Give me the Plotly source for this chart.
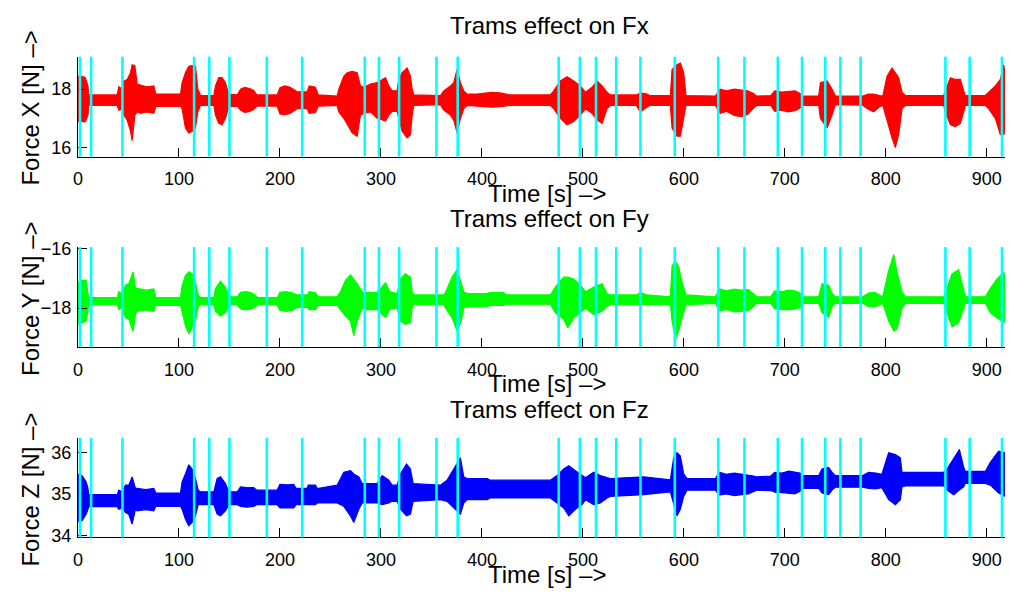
import plotly.graph_objects as go

# ---------------- data ----------------
# Envelope of each force signal: (time [s], upper extreme [N], lower extreme [N])
fx_env = [
    (0, 18.44, 16.89), (3.9, 18.44, 16.89), (7.2, 18.39, 16.89), (9.9, 18.11, 17.11), (10.5, 17.80, 17.44),
    (38.8, 17.80, 17.44), (40.4, 18.08, 17.28), (43.8, 18.00, 17.33), (45.4, 18.28, 17.11), (48.7, 18.33, 16.94),
    (52.0, 18.56, 16.56), (53.6, 18.83, 16.24), (56.3, 18.80, 17.11), (58.6, 18.17, 17.22), (61.9, 18.14, 17.17),
    (68, 18.08, 17.22), (75.1, 18.11, 17.17), (77, 17.83, 17.41), (101.5, 17.83, 17.41), (103.1, 18.22, 17.33),
    (106.4, 18.56, 16.67), (109.7, 18.78, 16.50), (113.0, 18.80, 16.56), (116.3, 18.78, 16.67), (118.6, 18.00, 17.22),
    (121.3, 17.78, 17.44), (134.5, 17.78, 17.44), (136.1, 18.11, 17.11), (139.4, 18.39, 16.83), (142.7, 18.39, 16.78),
    (146.0, 18.22, 17.00), (149.3, 17.83, 17.39), (157.6, 17.80, 17.42), (161, 18.00, 17.28), (165, 18.06, 17.20),
    (170, 18.02, 17.24), (174, 17.95, 17.30), (177, 17.80, 17.42), (197.2, 17.80, 17.42), (200, 18.05, 17.15),
    (205, 18.11, 17.13), (210, 18.06, 17.17), (214, 17.98, 17.25), (217, 17.91, 17.33), (226.9, 17.91, 17.33),
    (229, 18.11, 17.17), (235.1, 18.06, 17.20), (238, 17.80, 17.42), (256.6, 17.76, 17.44), (258.3, 18.00, 17.22),
    (263.2, 18.44, 17.00), (266.5, 18.56, 16.78), (271.5, 18.61, 16.50), (276.4, 18.56, 16.39), (279.7, 18.11, 17.11),
    (283.0, 18.06, 17.17), (289.6, 18.17, 17.22), (296.2, 18.22, 17.00), (304.5, 18.39, 16.91), (307.8, 18.11, 17.11),
    (311.1, 17.94, 17.24), (316.0, 17.94, 17.24), (317.7, 18.33, 17.00), (321.0, 18.56, 16.56), (325.9, 18.72, 16.33),
    (329.2, 18.44, 16.44), (330.9, 18.00, 17.11), (332.5, 17.80, 17.44), (358.9, 17.78, 17.47), (362.2, 17.94, 17.28),
    (368.8, 18.11, 17.11), (372.1, 18.22, 16.94), (375.4, 18.67, 16.50), (378.7, 18.22, 17.00), (382.0, 17.94, 17.33),
    (385.3, 17.83, 17.44), (395, 17.83, 17.42), (410, 17.89, 17.38), (418, 17.87, 17.40), (428, 17.80, 17.44),
    (467.8, 17.80, 17.44), (471.1, 17.94, 17.33), (477.7, 18.28, 17.00), (484.3, 18.42, 16.78), (490.9, 18.28, 16.89),
    (497.5, 18.11, 17.11), (502.5, 17.89, 17.33), (509.1, 18.06, 17.17), (514.0, 18.28, 16.94), (519.0, 18.11, 16.83),
    (523.9, 17.89, 17.33), (527.2, 17.80, 17.44), (553, 17.80, 17.44), (556.9, 17.87, 17.22), (563.5, 17.83, 17.39),
    (566, 17.78, 17.44), (586.6, 17.78, 17.44), (588.3, 18.67, 16.67), (593.2, 18.83, 16.39), (596.5, 18.89, 16.39),
    (599.8, 18.56, 17.00), (602.1, 17.78, 17.44), (631.2, 17.76, 17.44), (636, 18.00, 17.17), (642, 17.94, 17.24),
    (650, 18.00, 17.10), (657, 17.97, 17.06), (663, 17.94, 17.13), (669, 17.85, 17.35), (672, 17.76, 17.44),
    (686, 17.78, 17.44), (690, 17.94, 17.24), (697, 17.90, 17.28), (703, 17.92, 17.22), (710, 17.94, 17.26),
    (715, 17.85, 17.35), (718, 17.76, 17.44), (733.5, 17.76, 17.44), (735.2, 18.22, 17.00), (741.8, 18.28, 16.67),
    (746.7, 18.00, 17.11), (750, 17.76, 17.47), (777, 17.76, 17.45), (783, 17.83, 17.30), (788, 17.83, 17.22),
    (794, 17.78, 17.40), (797, 17.76, 17.44), (801.2, 18.44, 16.89), (806.1, 18.72, 16.33), (809.4, 18.56, 16.00),
    (812.7, 18.39, 16.44), (816.0, 17.89, 17.33), (819.3, 17.78, 17.44), (857.3, 17.78, 17.44), (858.9, 17.94, 17.22),
    (863.9, 18.39, 16.78), (868.8, 18.33, 16.72), (873.8, 18.33, 16.83), (877.1, 17.94, 17.22), (878.7, 17.78, 17.44),
    (898.5, 17.78, 17.44), (901.8, 17.89, 17.33), (908.4, 18.11, 17.00), (913.4, 18.33, 16.44), (916.7, 18.83, 16.44),
    (918, 18.56, 16.56),
]

fy_env = [
    (0, -17.15, -18.55), (4, -17.07, -18.49), (8, -17.07, -18.44), (9.9, -17.45, -18.11), (10.5, -17.65, -17.89),
    (38.8, -17.65, -17.89), (40.4, -17.45, -18.05), (43.8, -17.51, -18.00), (47, -17.23, -18.33), (50.3, -17.18, -18.38),
    (54.6, -16.78, -18.79), (56.9, -17.34, -18.22), (58.6, -17.34, -18.11), (67, -17.40, -18.06), (75.1, -17.36, -18.11),
    (77, -17.65, -17.91), (101.5, -17.65, -17.91), (103.1, -17.23, -18.11), (106.4, -16.91, -18.60), (109.7, -16.78, -18.87),
    (113.0, -16.85, -18.66), (116.3, -17.13, -18.44), (119.0, -17.56, -17.95), (121.3, -17.65, -17.89), (134.5, -17.65, -17.89),
    (136.1, -17.34, -18.11), (141.1, -17.10, -18.27), (146.0, -17.29, -18.16), (149.3, -17.62, -17.89), (157.6, -17.62, -17.89),
    (161, -17.47, -18.03), (166, -17.45, -18.06), (171, -17.48, -18.04), (175, -17.55, -17.97), (178, -17.65, -17.89),
    (197.2, -17.65, -17.89), (200, -17.47, -18.08), (206, -17.45, -18.11), (212, -17.49, -18.08), (217, -17.56, -17.98),
    (226.9, -17.56, -17.98), (229, -17.45, -18.05), (235, -17.48, -18.05), (238, -17.62, -17.91), (256.6, -17.62, -17.91),
    (259.9, -17.45, -18.05), (264.9, -17.07, -18.27), (269.8, -16.89, -18.44), (273.1, -17.02, -18.93), (276.4, -17.18, -18.44),
    (281.4, -17.45, -18.00), (283.0, -17.48, -18.05), (296.2, -17.48, -18.05), (301.2, -17.29, -18.22), (304.5, -17.15, -18.31),
    (308.8, -17.45, -18.05), (316.0, -17.51, -18.00), (319.3, -17.02, -18.44), (324.3, -16.85, -18.55), (329.2, -16.96, -18.49),
    (330.9, -17.45, -18.00), (332.5, -17.56, -17.89), (362.2, -17.56, -17.89), (363.9, -17.48, -18.00), (370.5, -16.96, -18.33),
    (375.4, -16.71, -18.77), (379.4, -17.13, -18.44), (382.0, -17.45, -18.00), (385.3, -17.51, -17.95), (405.1, -17.51, -17.95),
    (408.4, -17.48, -17.91), (421.6, -17.48, -17.91), (424, -17.56, -17.87), (467.8, -17.56, -17.87), (472.8, -17.29, -18.16),
    (481.0, -16.96, -18.38), (485.0, -16.96, -18.66), (490.9, -17.02, -18.33), (497.5, -17.23, -18.16), (502.5, -17.45, -18.00),
    (510.7, -17.29, -18.22), (519.0, -17.18, -18.11), (523.9, -17.51, -17.95), (527.2, -17.56, -17.89), (553, -17.56, -17.89),
    (556.9, -17.48, -17.89), (563.5, -17.56, -17.89), (586.6, -17.62, -17.87), (588.3, -16.58, -18.44), (591.6, -16.42, -19.04),
    (594.9, -16.63, -18.77), (598.2, -17.13, -18.33), (602.1, -17.56, -17.89), (631.2, -17.62, -17.84), (635, -17.35, -18.10),
    (642, -17.42, -18.05), (650, -17.36, -18.13), (657, -17.40, -18.11), (664, -17.38, -18.08), (669, -17.52, -17.95),
    (672, -17.62, -17.84), (686, -17.62, -17.84), (690, -17.42, -18.03), (697, -17.45, -18.05), (704, -17.40, -18.06),
    (711, -17.43, -18.02), (715, -17.50, -17.98), (718, -17.62, -17.84), (733.5, -17.62, -17.84), (736.8, -17.18, -18.16),
    (743.4, -17.23, -18.31), (746.7, -17.51, -17.95), (750, -17.62, -17.84), (777, -17.62, -17.84), (783, -17.50, -17.95),
    (789, -17.47, -17.96), (794, -17.56, -17.90), (797, -17.62, -17.84), (802.8, -16.74, -18.44), (807.8, -16.20, -18.77),
    (811.1, -16.80, -18.71), (816.0, -17.45, -18.00), (819.3, -17.62, -17.84), (857.3, -17.62, -17.84), (860.6, -17.34, -18.16),
    (865.5, -16.85, -18.63), (872.1, -16.71, -18.49), (877.1, -17.45, -18.00), (878.7, -17.62, -17.84), (898.5, -17.62, -17.84),
    (903.5, -17.34, -18.16), (910.1, -17.02, -18.33), (916.7, -16.80, -18.49), (918, -16.91, -18.44),
]

fz_env = [
    (0, 35.48, 34.33), (4, 35.44, 34.35), (8, 35.29, 34.51), (9.9, 35.13, 34.63), (10.5, 34.98, 34.69),
    (38.8, 34.98, 34.69), (40.4, 35.09, 34.63), (43.8, 35.05, 34.66), (47, 35.21, 34.55), (50.3, 35.21, 34.51),
    (53.6, 35.41, 34.27), (56.9, 35.13, 34.63), (58.6, 35.13, 34.59), (67, 35.10, 34.62), (75.1, 35.13, 34.59),
    (77, 35.02, 34.70), (101.5, 35.02, 34.70), (103.1, 35.29, 34.63), (106.4, 35.48, 34.39), (109.7, 35.70, 34.23),
    (113.0, 35.60, 34.31), (116.3, 35.37, 34.47), (119.0, 35.09, 34.74), (121.3, 35.05, 34.74), (134.5, 35.05, 34.74),
    (137.8, 35.37, 34.51), (141.1, 35.41, 34.47), (146.0, 35.25, 34.59), (149.3, 35.05, 34.74), (157.6, 35.05, 34.74),
    (161, 35.17, 34.70), (167, 35.15, 34.68), (174, 35.15, 34.70), (177, 35.09, 34.74), (197.2, 35.09, 34.74),
    (200, 35.23, 34.66), (207, 35.22, 34.67), (213.7, 35.23, 34.66), (216, 35.13, 34.74), (226.9, 35.13, 34.74),
    (228, 35.21, 34.74), (235.1, 35.21, 34.74), (237, 35.13, 34.78), (256.6, 35.21, 34.78), (263.2, 35.52, 34.70),
    (269.8, 35.56, 34.47), (273.1, 35.48, 34.31), (278.1, 35.41, 34.63), (281.4, 35.25, 34.78), (296.2, 35.25, 34.78),
    (301.2, 35.44, 34.74), (307.8, 35.33, 34.78), (311.1, 35.21, 34.82), (316.0, 35.21, 34.82), (319.3, 35.48, 34.63),
    (325.3, 35.72, 34.47), (329.2, 35.60, 34.51), (331.9, 35.25, 34.82), (358.9, 35.21, 34.86), (365.5, 35.33, 34.82),
    (372.1, 35.60, 34.66), (378.7, 35.87, 34.51), (382.0, 35.41, 34.78), (385.3, 35.37, 34.86), (405.1, 35.37, 34.86),
    (408.4, 35.33, 34.90), (467.8, 35.33, 34.90), (474.4, 35.44, 34.78), (481.0, 35.60, 34.66), (486.0, 35.68, 34.47),
    (492.6, 35.56, 34.63), (499.2, 35.44, 34.74), (502.5, 35.39, 34.86), (510.7, 35.52, 34.74), (517.3, 35.44, 34.78),
    (523.9, 35.39, 34.90), (527.2, 35.37, 34.94), (560.2, 35.41, 34.98), (586.6, 35.34, 35.05), (589.9, 35.87, 34.78),
    (593.2, 35.99, 34.47), (596.5, 35.91, 34.63), (599.8, 35.48, 34.94), (603.1, 35.37, 35.09), (631.2, 35.37, 35.09),
    (635, 35.52, 34.97), (642, 35.47, 35.00), (650, 35.50, 34.96), (657, 35.48, 34.98), (664, 35.46, 35.00),
    (669, 35.43, 35.06), (672, 35.41, 35.09), (686, 35.43, 35.08), (690, 35.52, 35.04), (697, 35.50, 35.03),
    (704, 35.55, 35.02), (710, 35.53, 35.00), (715, 35.50, 35.06), (718, 35.44, 35.13), (733.5, 35.44, 35.13),
    (736.8, 35.60, 35.02), (743.4, 35.64, 34.98), (746.7, 35.52, 35.09), (750, 35.44, 35.16), (777, 35.44, 35.16),
    (783, 35.52, 35.13), (790, 35.50, 35.12), (796, 35.47, 35.15), (802.8, 35.99, 34.86), (809.4, 35.95, 34.74),
    (814.4, 35.87, 34.86), (816.0, 35.52, 35.17), (819.3, 35.52, 35.19), (857.3, 35.52, 35.19), (860.6, 35.60, 35.09),
    (867.2, 35.84, 34.98), (872.8, 36.07, 35.09), (877.1, 35.64, 35.17), (878.7, 35.54, 35.25), (898.5, 35.54, 35.25),
    (903.5, 35.76, 35.21), (911.7, 36.03, 35.02), (918, 35.99, 34.94),
]

# times of the tram passages (cyan markers)
tram_times = [2, 13, 44, 115, 130, 150, 187, 222, 284, 298, 318, 355, 376, 476, 497, 513, 533, 557,
              591, 634, 660, 693, 717, 740, 755, 775, 859, 883, 915]

titles = ["Trams effect on Fx", "Trams effect on Fy", "Trams effect on Fz"]
ylabels = ["Force X [N] \u2013>", "Force Y [N] \u2013>", "Force Z [N] \u2013>"]
xlabel = "Time [s] \u2013>"
x_ticks = [0, 100, 200, 300, 400, 500, 600, 700, 800, 900]
y_ticks = [[16, 18], [-18, -16], [34, 35, 36]]
y_ranges = [[15.69, 19.11], [-19.31, -15.95], [33.95, 36.35]]
x_range = [0, 918]

# ---------------- layout geometry ----------------
W, H = 1009, 597
L, R = 78, 4
panels_px = [(50, 152.7), (245.7, 348.3), (441.7, 544)]  # top, bottom pixel of each plot area
title_dy = [-32, -29, -29]
colors = ["#ff0000", "#00ff00", "#0000ff"]
FONT = "Liberation Sans, Arial, Helvetica, sans-serif"

envs = [fx_env, fy_env, fz_env]

fig = go.Figure()
layout = dict(width=W, height=H, margin=dict(l=L, r=R, t=0, b=0),
              paper_bgcolor="white", plot_bgcolor="white", showlegend=False,
              font=dict(family=FONT, color="black"))
annotations = []
shapes = []


def px_to_xp(px):
    return (px - L) / (W - L - R)


def px_to_yp(py):
    return 1 - py / H


for i in range(3):
    n = "" if i == 0 else str(i + 1)
    top, bot = panels_px[i]
    t = [row[0] for row in envs[i]]
    hi = [row[1] for row in envs[i]]
    lo = [row[2] for row in envs[i]]
    fig.add_trace(go.Scatter(
        x=t + t[::-1], y=hi + lo[::-1],
        fill="toself", fillcolor=colors[i], mode="lines",
        line=dict(color=colors[i], width=1.2), hoverinfo="skip",
        xaxis="x" + n, yaxis="y" + n))
    for tt in tram_times:
        shapes.append(dict(type="line", xref="x" + n, yref="y" + n + " domain",
                           x0=tt, x1=tt, y0=0, y1=1, layer="above",
                           line=dict(color="#00ffff", width=2.6)))
    layout["xaxis" + n] = dict(domain=[0, 1], anchor="y" + n, range=x_range,
                               tickvals=x_ticks, ticks="inside", ticklen=9, tickwidth=1,
                               tickcolor="black", showline=True, linecolor="black",
                               linewidth=1, showgrid=False, zeroline=False,
                               tickfont=dict(size=18, family=FONT, color="black"),
                               ticklabelstandoff=6)
    layout["yaxis" + n] = dict(domain=[px_to_yp(bot), px_to_yp(top)], anchor="x" + n,
                               range=y_ranges[i], tickvals=y_ticks[i], ticks="inside",
                               ticklen=9, tickwidth=1, tickcolor="black", showline=True,
                               linecolor="black", linewidth=1, showgrid=False,
                               zeroline=False,
                               tickfont=dict(size=18, family=FONT, color="black"),
                               ticklabelstandoff=2)
    # panel title
    annotations.append(dict(text=titles[i], xref="paper", yref="paper",
                            x=px_to_xp(549), y=px_to_yp(top + title_dy[i]), xanchor="center",
                            yanchor="middle", showarrow=False,
                            font=dict(size=24, family=FONT, color="black")))
    # x axis title
    annotations.append(dict(text=xlabel, xref="paper", yref="paper",
                            x=px_to_xp(547), y=px_to_yp(bot + 38), xanchor="center",
                            yanchor="middle", showarrow=False,
                            font=dict(size=24, family=FONT, color="black")))
    # y axis title
    annotations.append(dict(text=ylabels[i], xref="paper", yref="paper",
                            x=px_to_xp(31), y=px_to_yp((top + bot) / 2 + 2),
                            xanchor="center", yanchor="middle", textangle=-90,
                            showarrow=False,
                            font=dict(size=24, family=FONT, color="black")))

layout["annotations"] = annotations
layout["shapes"] = shapes
fig.update_layout(**layout)
fig.write_html("out.html")
